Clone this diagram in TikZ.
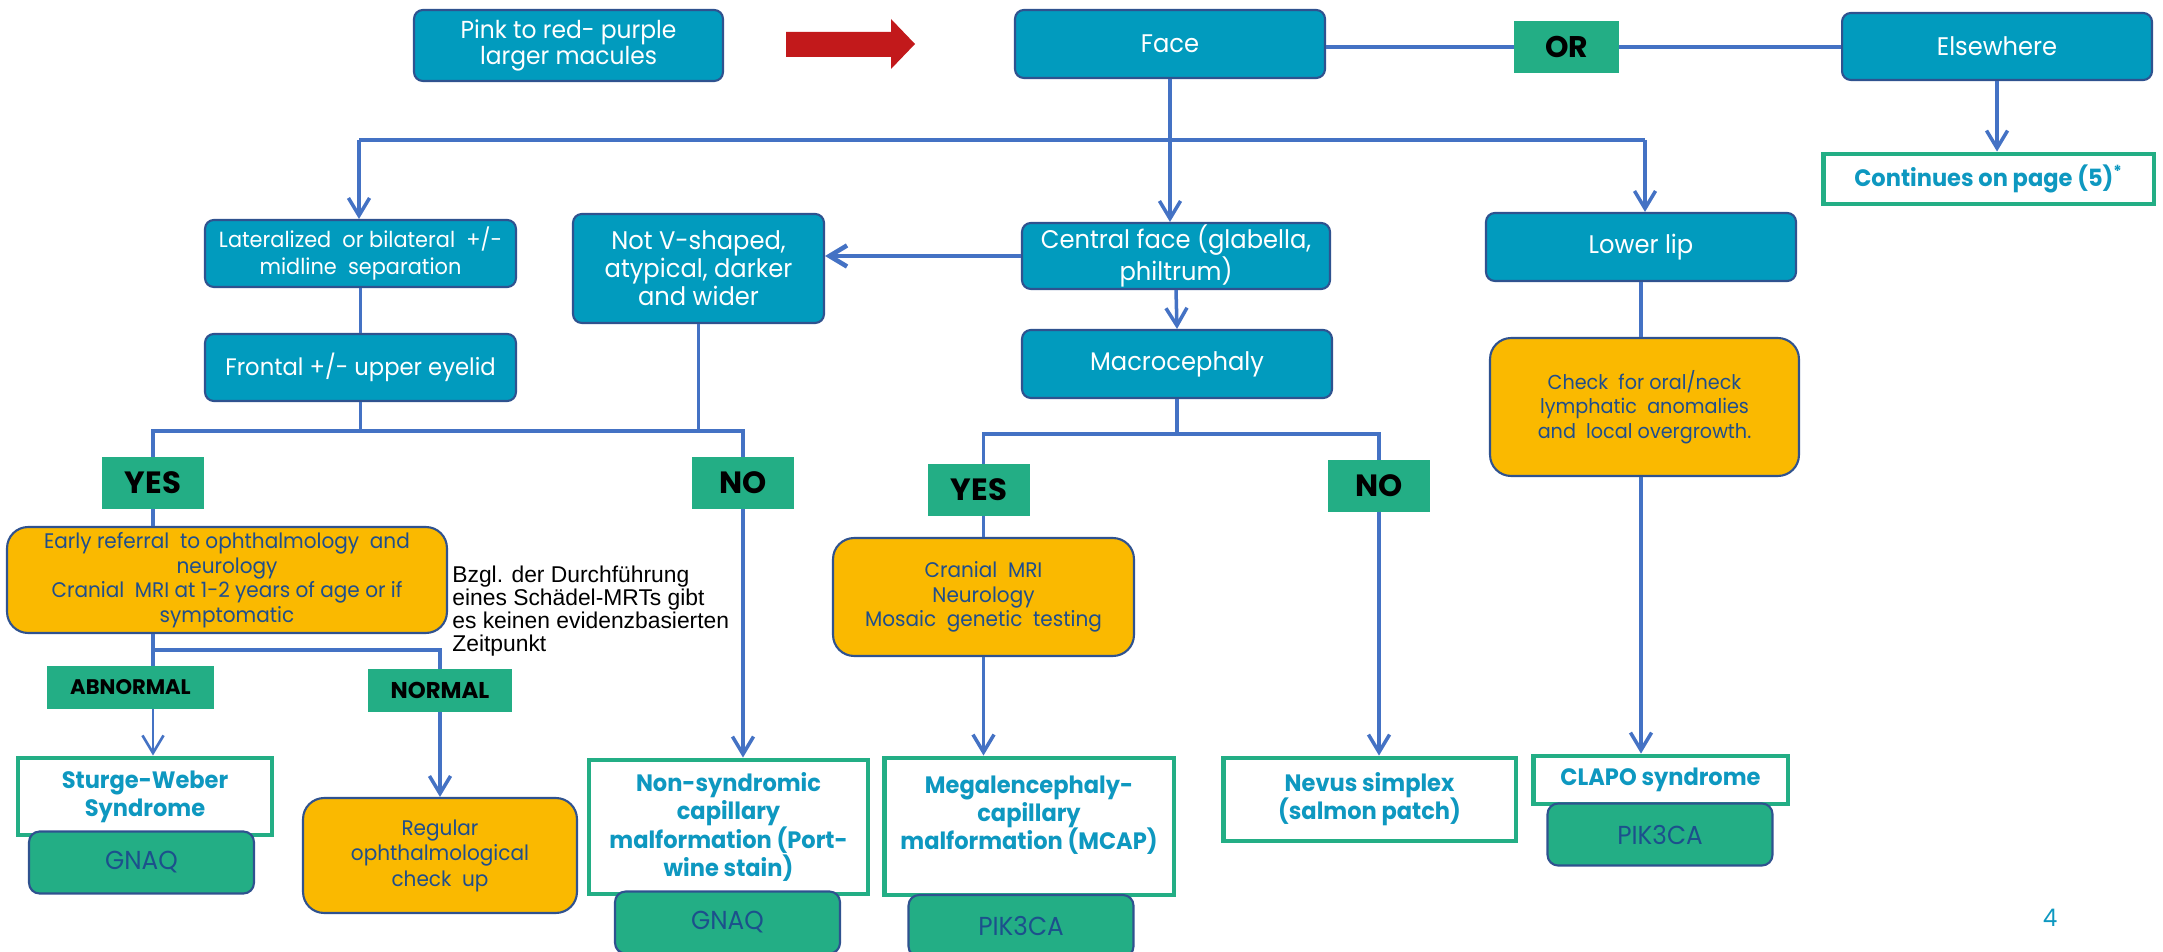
\documentclass[tikz,border=0pt]{standalone}
\usepackage{fontspec}
\setmainfont{Poppins}[FakeStretch=0.95]
\newfontfamily\labelfont{Poppins}
\newfontfamily\notefont{Liberation Sans}
\usepackage{tikz}
\usetikzlibrary{positioning}
\usetikzlibrary{arrows.meta}

\definecolor{boxteal}{RGB}{1,155,190}
\definecolor{boxedge}{RGB}{47,82,143}
\definecolor{lblgreen}{RGB}{35,174,133}
\definecolor{boxorange}{RGB}{250,185,0}
\definecolor{wireblue}{RGB}{68,114,196}
\definecolor{arrowred}{RGB}{194,25,27}
\definecolor{advblue}{RGB}{31,78,140}
\definecolor{diagteal}{RGB}{14,152,192}
\definecolor{geneblue}{RGB}{28,80,140}

\begin{document}
\begin{tikzpicture}[x=0.02cm, y=-0.02cm]
        \tikzstyle{topic}=[rectangle, rounded corners=5pt, fill=boxteal,
            draw=boxedge, line width=1.2pt, text=white, align=center,
            inner sep=0pt, font=\fontsize{14.5}{16}\selectfont]
        \tikzstyle{advice}=[rectangle, rounded corners=12pt, fill=boxorange,
            draw=boxedge, line width=1.2pt, text=advblue, align=center,
            inner sep=0pt, font=\fontsize{12}{14}\selectfont]
        \tikzstyle{answer}=[rectangle, fill=lblgreen, inner sep=0pt,
            font=\labelfont\bfseries\fontsize{17.5}{19}\selectfont]
        \tikzstyle{diagnosis}=[rectangle, fill=white, draw=lblgreen,
            line width=2.8pt, text=diagteal, align=center, inner sep=0pt,
            font=\bfseries\fontsize{13.5}{16}\selectfont]
        \tikzstyle{gene}=[rectangle, rounded corners=6pt, fill=lblgreen,
            draw=boxedge, line width=1.2pt, text=geneblue, inner sep=0pt,
            minimum width=4.5cm, font=\fontsize{14.8}{16}\selectfont]
        \tikzstyle{wire}=[draw=wireblue, line width=2pt]
        \tikzstyle{feed}=[wire, -{Straight Barb[length=10pt,width=12pt]}]

            \clip (0,0) rectangle (2163,952);

            \node[topic, minimum width=6.18cm, minimum height=1.42cm,
            font=\fontsize{14}{15.3}\selectfont] (pink) at (568.5,45.5)
            {Pink to red- purple\\larger macules};
            \fill[arrowred] (786,32) -- (891,32) -- (891,19) -- (915,44) --
            (891,69) -- (891,57) -- (786,57) -- cycle;

            \node[topic, minimum width=6.2cm, minimum height=1.36cm]
            (face) at (1170,44) {Face};
            \node[answer, minimum width=2.1cm, minimum height=1.04cm,
            font=\labelfont\bfseries\fontsize{17}{19}\selectfont]
            (orsep) at (1566.5,47) {OR};
            \node[topic, minimum width=6.2cm, minimum height=1.34cm]
            (other) at (1997,46.5) {Elsewhere};
            \node[diagnosis, minimum width=6.62cm, minimum height=1cm]
            (cont) at (1988.5,179) {Continues on page (5)\textsuperscript{*}};

            \node[topic, minimum width=6.22cm, minimum height=1.34cm,
            font=\fontsize{12.5}{15.3}\selectfont] (lat) at (360.5,253.5)
            {Lateralized\ \ or bilateral\ \ +/-\\midline\ \ separation};
            \node[topic, minimum width=5.02cm, minimum height=2.18cm]
            (notv) at (698.5,268.5) {Not V-shaped,\\atypical, darker\\and wider};
            \node[topic, minimum width=6.16cm, minimum height=1.32cm]
            (cent) at (1176,256) {Central face (glabella,\\philtrum)};
            \node[topic, minimum width=6.2cm, minimum height=1.36cm]
            (lip) at (1641,247) {Lower lip};

            \node[topic, minimum width=6.22cm, minimum height=1.34cm,
            font=\fontsize{13.6}{16}\selectfont]
            (front) at (360.5,367.5) {Frontal +/- upper eyelid};
            \node[topic, minimum width=6.2cm, minimum height=1.36cm]
            (macro) at (1177,364) {Macrocephaly};
            \node[advice, minimum width=6.18cm, minimum height=2.76cm,
            font=\fontsize{11.5}{14}\selectfont] (check) at (1644.5,407)
            {Check\ \ for oral/neck\\lymphatic\ \ anomalies\\and\ \ local overgrowth.};

            \foreach \n/\x/\y/\t in {yes1/153/483/YES, no1/743/483/NO,
                yes2/979/490/YES, no2/1379/486/NO}
            {
                \node[answer, minimum width=2.04cm, minimum height=1.04cm]
                (\n) at (\x,\y) {\t};
            }

            \node[advice, minimum width=8.8cm, minimum height=2.12cm]
            (early) at (227,580) {Early referral\ \ to ophthalmology\ \ and\\
            neurology\\Cranial\ \ MRI at 1-2 years of age or if\\symptomatic};
            \node[font=\notefont\fontsize{13}{13}\selectfont,
            align=left, anchor=north west, inner sep=0pt] (note)
            at (452,566) {Bzgl. der Durchführung\\eines Schädel-MRTs gibt\\
            es keinen evidenzbasierten\\Zeitpunkt};
            \node[advice, minimum width=6.02cm, minimum height=2.36cm]
            (mri) at (983.5,597)
            {Cranial\ \ MRI\\Neurology\\Mosaic\ \ genetic\ \ testing};

            \node[answer, minimum width=3.34cm, minimum height=0.86cm,
            font=\labelfont\bfseries\fontsize{12}{13}\selectfont] (abn)
            at (130.5,687.5) {ABNORMAL};
            \node[answer, minimum width=2.88cm, minimum height=0.86cm,
            font=\labelfont\bfseries\fontsize{13}{14}\selectfont] (norm)
            at (440,690.5) {NORMAL};

            \node[diagnosis, minimum width=5.08cm, minimum height=1.54cm]
            (sw) at (145,796.5) {Sturge-Weber\\Syndrome};
            \node[advice, minimum width=5.48cm, minimum height=2.3cm,
            font=\fontsize{12}{14.5}\selectfont] (regular) at (440,855.5)
            {Regular\\ophthalmological\\check\ \ up};
            \node[diagnosis, minimum width=5.58cm, minimum height=2.68cm]
            (ncm) at (728.5,827)
            {Non-syndromic\\capillary\\malformation (Port-\\wine stain)};
            \node[diagnosis, minimum width=5.8cm, minimum height=2.74cm]
            (mcap) at (1029,826.5)
            {Megalencephaly-\\capillary\\malformation (MCAP)\\\mbox{}};
            \node[diagnosis, minimum width=5.86cm, minimum height=1.66cm]
            (nevus) at (1369.5,799.5) {Nevus simplex\\(salmon patch)};
            \node[diagnosis, minimum width=5.1cm, minimum height=0.96cm]
            (clapo) at (1660.5,780) {CLAPO syndrome};

            \foreach \n/\x/\y/\g in {gene1/141.5/862.5/GNAQ,
                gene2/727.5/922.5/GNAQ, gene3/1021/926/PIK3CA,
                gene4/1660/834.5/PIK3CA}
            {
                \node[gene, minimum height=1.24cm] (\n) at (\x,\y) {\g};
            }

            \node[text=diagteal, font=\fontsize{13.8}{15}\selectfont]
            (page) at (2050,918) {4};

            \draw[wire] (face.east |- orsep) -- (orsep.west);
            \draw[wire] (orsep.east) -- (orsep.east -| other.west);
            \draw[feed] (other.south) -- (other.south |- cont.north);

            \coordinate (barl) at (359,140);
            \coordinate (barr) at (1645,140);
            \draw[wire] (face.south) -- (face.south |- barl);
            \draw[wire, line width=2.8pt] (barl) -- (barr);
            \draw[feed] (barl) -- (barl |- lat.north);
            \draw[feed] (face.south |- barl) -- (face.south |- cent.north);
            \draw[feed] (barr) -- (barr |- lip.north);

            \draw[feed, line width=2.6pt] (cent.west) -- (cent.west -| notv.east);
            \draw[feed] (cent.south) -- (macro.north);
            \draw[wire] (lat) -- (front);

            \path (front.south) ++(0,29) coordinate (fork1);
            \draw[wire] (front.south) -- (fork1);
            \draw[wire] (notv.south) -- (notv.south |- fork1);
            \draw[wire] (yes1.north) |- (fork1) -| (no1.north);
            \draw[wire] (yes1) -- (yes1 |- early.north);

            \coordinate (fork2) at (153,650);
            \draw[wire] (yes1 |- early.south) -- (yes1 |- abn.north);
            \draw[wire, line width=2.6pt] (fork2) -| (norm.north);
            \draw[feed, line width=1.5pt] (yes1 |- abn.south) -- (yes1 |- sw.north);
            \draw[feed] (norm) -- (regular);
            \draw[feed] (no1) -- (no1 |- ncm.north);

            \path (macro.south) ++(0,35) coordinate (fork3);
            \draw[wire] (macro.south) -- (fork3);
            \draw[wire] (mri.north |- yes2.north) |- (fork3) -| (no2.north);
            \draw[wire] (mri.north |- yes2.south) -- (mri.north);
            \draw[feed] (mri.south) -- (mri.south |- mcap.north);
            \draw[feed] (no2) -- (no2 |- nevus.north);

            \draw[wire] (lip) -- (lip |- check.north);
            \draw[feed] (lip |- check.south) -- (lip |- clapo.north);
    \end{tikzpicture}
\end{document}
